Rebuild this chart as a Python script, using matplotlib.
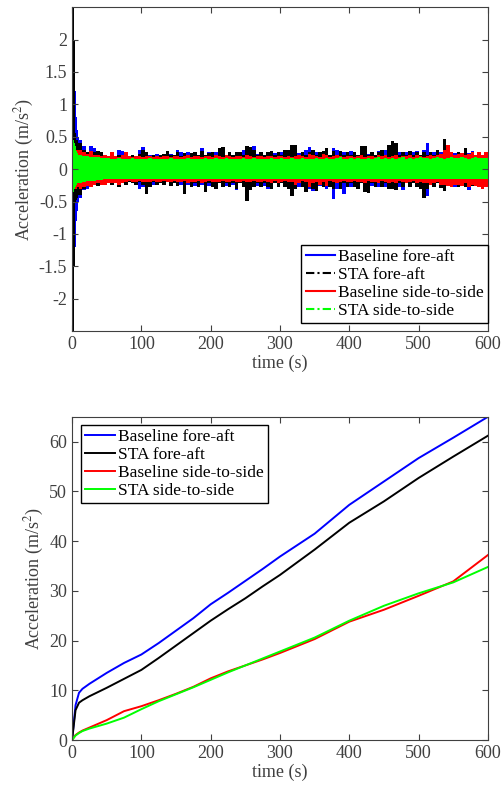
import numpy as np
import matplotlib
matplotlib.use("Agg")
import matplotlib.pyplot as plt
from matplotlib.lines import Line2D

plt.rcParams['font.family'] = ['Liberation Serif', 'DejaVu Serif']
plt.rcParams['mathtext.fontset'] = 'stix'
plt.rcParams['axes.unicode_minus'] = False

labels = ["Baseline fore-aft", "STA fore-aft", "Baseline side-to-side", "STA side-to-side"]
colors = ["#0000ff", "#000000", "#ff0000", "#00ff00"]

# ---- top panel: envelope of the raw acceleration, read per time bin ----
# 1 s bins for the first 10 s, then 5 s bins up to 600 s
bin_edges = np.concatenate([np.arange(0, 10, 1), np.arange(10, 601, 5)])

base_fa_hi = [1.0, 1.6, 1.6, 1.6, 1.2, 1.0, 0.8, 0.6, 0.55, 0.5,
              0.45, 0.36, 0.24, 0.36, 0.32, 0.22, 0.26, 0.2, 0.2, 0.22,
              0.2, 0.3, 0.28, 0.2, 0.19, 0.22, 0.2, 0.3, 0.34, 0.2,
              0.22, 0.19, 0.24, 0.2, 0.22, 0.2, 0.24, 0.2, 0.3, 0.26,
              0.22, 0.26, 0.22, 0.26, 0.2, 0.33, 0.22, 0.26, 0.22, 0.26,
              0.24, 0.28, 0.22, 0.25, 0.22, 0.24, 0.22, 0.3, 0.33, 0.3,
              0.36, 0.24, 0.26, 0.22, 0.27, 0.22, 0.25, 0.22, 0.27, 0.24,
              0.28, 0.3, 0.22, 0.25, 0.22, 0.3, 0.34, 0.22, 0.27, 0.24,
              0.28, 0.3, 0.22, 0.32, 0.3, 0.22, 0.27, 0.22, 0.28, 0.24,
              0.22, 0.28, 0.3, 0.24, 0.27, 0.22, 0.28, 0.22, 0.3, 0.3,
              0.3, 0.24, 0.26, 0.22, 0.26, 0.22, 0.27, 0.28, 0.22, 0.3,
              0.41, 0.24, 0.27, 0.22, 0.26, 0.22, 0.25, 0.22, 0.25, 0.22,
              0.25, 0.22, 0.25, 0.28, 0.22, 0.24, 0.22, 0.24]
base_fa_lo = [-2.5, -2.5, -2.5, -1.25, -1.2, -1.0, -0.8, -0.65, -0.55, -0.5,
              -0.45, -0.32, -0.31, -0.28, -0.22, -0.24, -0.2, -0.22, -0.2, -0.2,
              -0.22, -0.24, -0.2, -0.2, -0.2, -0.22, -0.2, -0.3, -0.28, -0.22,
              -0.2, -0.24, -0.22, -0.2, -0.22, -0.2, -0.24, -0.2, -0.22, -0.24,
              -0.22, -0.25, -0.22, -0.26, -0.22, -0.25, -0.22, -0.26, -0.22, -0.25,
              -0.22, -0.24, -0.26, -0.22, -0.25, -0.32, -0.22, -0.26, -0.22, -0.27,
              -0.22, -0.26, -0.22, -0.26, -0.3, -0.31, -0.22, -0.27, -0.22, -0.28,
              -0.22, -0.3, -0.22, -0.27, -0.22, -0.26, -0.3, -0.34, -0.22, -0.26,
              -0.22, -0.3, -0.24, -0.46, -0.3, -0.22, -0.38, -0.22, -0.27, -0.22,
              -0.26, -0.22, -0.27, -0.22, -0.26, -0.22, -0.27, -0.22, -0.28, -0.3,
              -0.3, -0.22, -0.28, -0.32, -0.22, -0.26, -0.22, -0.26, -0.22, -0.3,
              -0.41, -0.22, -0.27, -0.22, -0.28, -0.22, -0.25, -0.22, -0.27, -0.22,
              -0.26, -0.22, -0.32, -0.22, -0.25, -0.22, -0.27, -0.22]

sta_fa_hi = [2.5, 2.5, 2.5, 2.0, 0.55, 0.5, 0.45, 0.45, 0.4, 0.4,
             0.4, 0.3, 0.26, 0.22, 0.26, 0.28, 0.27, 0.2, 0.2, 0.22,
             0.2, 0.22, 0.2, 0.2, 0.2, 0.22, 0.2, 0.24, 0.3, 0.26,
             0.2, 0.22, 0.2, 0.22, 0.24, 0.28, 0.22, 0.22, 0.26, 0.2,
             0.25, 0.22, 0.25, 0.27, 0.22, 0.28, 0.22, 0.25, 0.27, 0.22,
             0.33, 0.34, 0.22, 0.26, 0.22, 0.26, 0.27, 0.22, 0.36, 0.34,
             0.3, 0.22, 0.26, 0.22, 0.26, 0.28, 0.22, 0.26, 0.22, 0.3,
             0.3, 0.38, 0.37, 0.22, 0.27, 0.22, 0.27, 0.3, 0.22, 0.27,
             0.28, 0.33, 0.22, 0.28, 0.22, 0.28, 0.22, 0.26, 0.22, 0.27,
             0.22, 0.35, 0.36, 0.22, 0.27, 0.22, 0.27, 0.3, 0.22, 0.38,
             0.43, 0.4, 0.22, 0.27, 0.22, 0.28, 0.22, 0.26, 0.22, 0.27,
             0.22, 0.27, 0.22, 0.3, 0.22, 0.46, 0.22, 0.27, 0.22, 0.27,
             0.22, 0.32, 0.22, 0.27, 0.22, 0.26, 0.22, 0.24]
sta_fa_lo = [-2.5, -2.5, -2.5, -1.5, -0.5, -0.5, -0.48, -0.45, -0.42, -0.4,
             -0.4, -0.3, -0.26, -0.22, -0.25, -0.26, -0.22, -0.22, -0.2, -0.24,
             -0.22, -0.28, -0.2, -0.24, -0.2, -0.22, -0.24, -0.2, -0.25, -0.38,
             -0.28, -0.2, -0.25, -0.22, -0.24, -0.2, -0.26, -0.22, -0.26, -0.2,
             -0.38, -0.22, -0.28, -0.22, -0.27, -0.22, -0.35, -0.22, -0.27, -0.3,
             -0.22, -0.28, -0.22, -0.28, -0.22, -0.3, -0.22, -0.27, -0.49, -0.32,
             -0.28, -0.22, -0.28, -0.22, -0.28, -0.3, -0.22, -0.27, -0.22, -0.27,
             -0.3, -0.41, -0.3, -0.22, -0.27, -0.36, -0.22, -0.3, -0.34, -0.22,
             -0.28, -0.22, -0.28, -0.3, -0.22, -0.3, -0.22, -0.28, -0.22, -0.28,
             -0.3, -0.22, -0.36, -0.37, -0.22, -0.28, -0.22, -0.28, -0.22, -0.3,
             -0.3, -0.32, -0.22, -0.27, -0.22, -0.28, -0.22, -0.28, -0.3, -0.44,
             -0.3, -0.22, -0.27, -0.22, -0.29, -0.34, -0.22, -0.28, -0.22, -0.27,
             -0.22, -0.27, -0.22, -0.26, -0.22, -0.26, -0.22, -0.26]

base_ss_hi = [0.3, 0.35, 0.3, 0.3, 0.3, 0.3, 0.3, 0.3, 0.3, 0.3,
              0.3, 0.26, 0.24, 0.28, 0.22, 0.22, 0.2, 0.22, 0.2, 0.26,
              0.2, 0.18, 0.22, 0.26, 0.2, 0.18, 0.2, 0.2, 0.18, 0.2,
              0.2, 0.18, 0.2, 0.18, 0.2, 0.2, 0.18, 0.2, 0.2, 0.18,
              0.2, 0.22, 0.18, 0.2, 0.2, 0.18, 0.2, 0.2, 0.18, 0.22,
              0.2, 0.18, 0.22, 0.2, 0.18, 0.2, 0.2, 0.18, 0.22, 0.2,
              0.18, 0.2, 0.2, 0.18, 0.2, 0.2, 0.18, 0.2, 0.2, 0.18,
              0.2, 0.18, 0.2, 0.22, 0.2, 0.18, 0.24, 0.22, 0.2, 0.18,
              0.24, 0.22, 0.18, 0.2, 0.22, 0.2, 0.18, 0.2, 0.2, 0.18,
              0.2, 0.22, 0.18, 0.2, 0.2, 0.18, 0.22, 0.2, 0.22, 0.18,
              0.2, 0.22, 0.18, 0.2, 0.2, 0.22, 0.18, 0.22, 0.2, 0.18,
              0.2, 0.22, 0.2, 0.22, 0.24, 0.3, 0.38, 0.26, 0.22, 0.24,
              0.25, 0.22, 0.24, 0.26, 0.22, 0.26, 0.22, 0.27]
base_ss_lo = [-0.35, -0.35, -0.3, -0.3, -0.3, -0.3, -0.3, -0.28, -0.28, -0.28,
              -0.3, -0.28, -0.26, -0.28, -0.24, -0.22, -0.24, -0.25, -0.22, -0.22,
              -0.22, -0.24, -0.22, -0.2, -0.18, -0.2, -0.2, -0.18, -0.2, -0.2,
              -0.2, -0.18, -0.2, -0.2, -0.18, -0.2, -0.2, -0.18, -0.2, -0.2,
              -0.18, -0.22, -0.2, -0.2, -0.18, -0.22, -0.2, -0.18, -0.2, -0.2,
              -0.2, -0.18, -0.2, -0.2, -0.18, -0.2, -0.2, -0.18, -0.2, -0.2,
              -0.18, -0.2, -0.2, -0.18, -0.2, -0.22, -0.18, -0.22, -0.2, -0.18,
              -0.2, -0.2, -0.24, -0.22, -0.18, -0.2, -0.28, -0.22, -0.2, -0.24,
              -0.2, -0.26, -0.18, -0.2, -0.22, -0.2, -0.18, -0.2, -0.2, -0.18,
              -0.2, -0.2, -0.22, -0.18, -0.2, -0.2, -0.22, -0.18, -0.2, -0.22,
              -0.2, -0.22, -0.18, -0.2, -0.22, -0.2, -0.18, -0.22, -0.2, -0.22,
              -0.22, -0.24, -0.22, -0.2, -0.25, -0.24, -0.26, -0.28, -0.24, -0.25,
              -0.26, -0.22, -0.28, -0.24, -0.26, -0.27, -0.3, -0.28]

sta_ss_hi = [0.5, 0.5, 0.45, 0.4, 0.35, 0.3, 0.28, 0.25, 0.24, 0.22,
             0.22, 0.2, 0.2, 0.19, 0.18, 0.18, 0.17, 0.17, 0.17, 0.16,
             0.16, 0.17, 0.16, 0.15, 0.16, 0.17, 0.16, 0.16, 0.15, 0.16,
             0.17, 0.16, 0.16, 0.15, 0.16, 0.16, 0.17, 0.16, 0.15, 0.16,
             0.16, 0.17, 0.16, 0.16, 0.15, 0.16, 0.17, 0.16, 0.16, 0.17,
             0.16, 0.16, 0.17, 0.16, 0.15, 0.16, 0.16, 0.17, 0.16, 0.16,
             0.17, 0.16, 0.16, 0.15, 0.16, 0.17, 0.16, 0.16, 0.17, 0.16,
             0.16, 0.17, 0.16, 0.16, 0.17, 0.16, 0.15, 0.16, 0.17, 0.16,
             0.16, 0.17, 0.16, 0.16, 0.17, 0.18, 0.16, 0.16, 0.17, 0.16,
             0.17, 0.16, 0.16, 0.17, 0.16, 0.17, 0.18, 0.16, 0.17, 0.16,
             0.17, 0.16, 0.17, 0.18, 0.16, 0.17, 0.16, 0.17, 0.18, 0.17,
             0.17, 0.16, 0.17, 0.18, 0.17, 0.16, 0.17, 0.18, 0.17, 0.17,
             0.18, 0.17, 0.16, 0.17, 0.18, 0.17, 0.17, 0.17]
sta_ss_lo = [-0.38, -0.38, -0.35, -0.3, -0.28, -0.25, -0.24, -0.22, -0.22, -0.21,
             -0.21, -0.2, -0.19, -0.18, -0.18, -0.17, -0.17, -0.16, -0.16, -0.16,
             -0.15, -0.16, -0.15, -0.15, -0.16, -0.15, -0.15, -0.16, -0.15, -0.15,
             -0.16, -0.15, -0.15, -0.16, -0.15, -0.15, -0.16, -0.15, -0.15, -0.16,
             -0.15, -0.16, -0.15, -0.15, -0.16, -0.15, -0.15, -0.16, -0.15, -0.15,
             -0.16, -0.15, -0.15, -0.16, -0.15, -0.16, -0.15, -0.15, -0.16, -0.15,
             -0.15, -0.16, -0.15, -0.15, -0.16, -0.15, -0.16, -0.15, -0.15, -0.16,
             -0.15, -0.15, -0.16, -0.15, -0.16, -0.15, -0.15, -0.16, -0.15, -0.15,
             -0.16, -0.15, -0.15, -0.16, -0.15, -0.16, -0.15, -0.15, -0.16, -0.15,
             -0.15, -0.16, -0.15, -0.15, -0.16, -0.15, -0.16, -0.15, -0.15, -0.16,
             -0.15, -0.16, -0.15, -0.16, -0.15, -0.15, -0.16, -0.15, -0.16, -0.15,
             -0.16, -0.15, -0.15, -0.16, -0.15, -0.16, -0.15, -0.16, -0.15, -0.15,
             -0.16, -0.15, -0.16, -0.15, -0.15, -0.16, -0.15, -0.15]

# ---- bottom panel: accumulated response ----
t_cum = [0, 5, 10, 15, 25, 50, 75, 100, 125, 150, 175, 200, 225, 250, 275, 300,
         350, 400, 450, 500, 550, 600]
cum_base_fa = [0, 7.0, 9.5, 10.3, 11.3, 13.5, 15.5, 17.2, 19.5, 22.0, 24.5, 27.3,
               29.6, 32.0, 34.4, 36.9, 41.5, 47.3, 52.0, 56.7, 60.8, 65.0]
cum_sta_fa = [0, 6.0, 7.5, 8.0, 8.8, 10.5, 12.3, 14.1, 16.5, 19.0, 21.5, 24.0,
              26.3, 28.5, 30.9, 33.2, 38.3, 43.7, 48.0, 52.7, 57.0, 61.2]
cum_base_ss = [0, 1.0, 1.5, 1.9, 2.5, 4.0, 5.8, 6.8, 8.0, 9.3, 10.7, 12.4,
               13.8, 15.0, 16.2, 17.5, 20.3, 23.8, 26.2, 29.0, 31.9, 37.2]
cum_sta_ss = [0, 0.9, 1.4, 1.8, 2.3, 3.3, 4.5, 6.2, 7.8, 9.2, 10.6, 12.1,
              13.6, 15.0, 16.4, 17.8, 20.6, 24.0, 27.0, 29.5, 31.7, 34.8]

tick_col = '#404040'
dashdot = (0, (4, 1.5, 1, 1.5))

fig = plt.figure(figsize=(5.04, 7.94), dpi=100)
ax1 = fig.add_axes([0.143, 0.583, 0.825, 0.408])
ax2 = fig.add_axes([0.143, 0.068, 0.825, 0.407])

bands = [(base_fa_hi, base_fa_lo), (sta_fa_hi, sta_fa_lo),
         (base_ss_hi, base_ss_lo), (sta_ss_hi, sta_ss_lo)]
for (hi, lo), c in zip(bands, colors):
    ax1.stairs(hi, bin_edges, baseline=lo, fill=True, color=c, linewidth=0.8)
ax1.set_xlim(0, 600)
ax1.set_ylim(-2.5, 2.5)
ax1.set_yticks([-2, -1.5, -1, -0.5, 0, 0.5, 1, 1.5, 2])
ax1.set_yticklabels(['-2', '-1.5', '-1', '-0.5', '0', '0.5', '1', '1.5', '2'])
ax1.set_xticks(range(0, 601, 100))
ax1.set_xlabel('time (s)', fontsize=13, color=tick_col, labelpad=1)
ax1.set_ylabel('Acceleration (m/s$^2$)', fontsize=13, color=tick_col, labelpad=2)
handles = [Line2D([], [], color=c, lw=1.5, linestyle=ls)
           for c, ls in zip(colors, ['-', dashdot, '-', dashdot])]
ax1.legend(handles, labels, loc='lower right', bbox_to_anchor=(1.0, 8 / 324),
           borderaxespad=0, fontsize=12.5, fancybox=False, edgecolor='black',
           framealpha=1, handlelength=1.7, handletextpad=0.15,
           labelspacing=0.1, borderpad=0.25)

cum_series = [cum_base_fa, cum_sta_fa, cum_base_ss, cum_sta_ss]
for y, c, lab in zip(cum_series, colors, labels):
    ax2.plot(t_cum, y, color=c, linewidth=1.4, label=lab)
ax2.set_xlim(0, 600)
ax2.set_ylim(0, 65)
ax2.set_yticks(range(0, 61, 10))
ax2.set_xticks(range(0, 601, 100))
ax2.set_xlabel('time (s)', fontsize=13, color=tick_col, labelpad=1)
ax2.set_ylabel('Acceleration (m/s$^2$)', fontsize=13, color=tick_col, labelpad=2)
ax2.legend(loc='upper left', bbox_to_anchor=(9 / 416, 1 - 8 / 323), borderaxespad=0,
           fontsize=12.5, fancybox=False, edgecolor='black', framealpha=1,
           handlelength=1.7, handletextpad=0.15, labelspacing=0.1, borderpad=0.25)

for ax in (ax1, ax2):
    ax.tick_params(direction='in', top=True, right=True, labelsize=13,
                   colors=tick_col, length=4)
    for sp in ax.spines.values():
        sp.set_color(tick_col)

fig.savefig('out.png', dpi=100)
